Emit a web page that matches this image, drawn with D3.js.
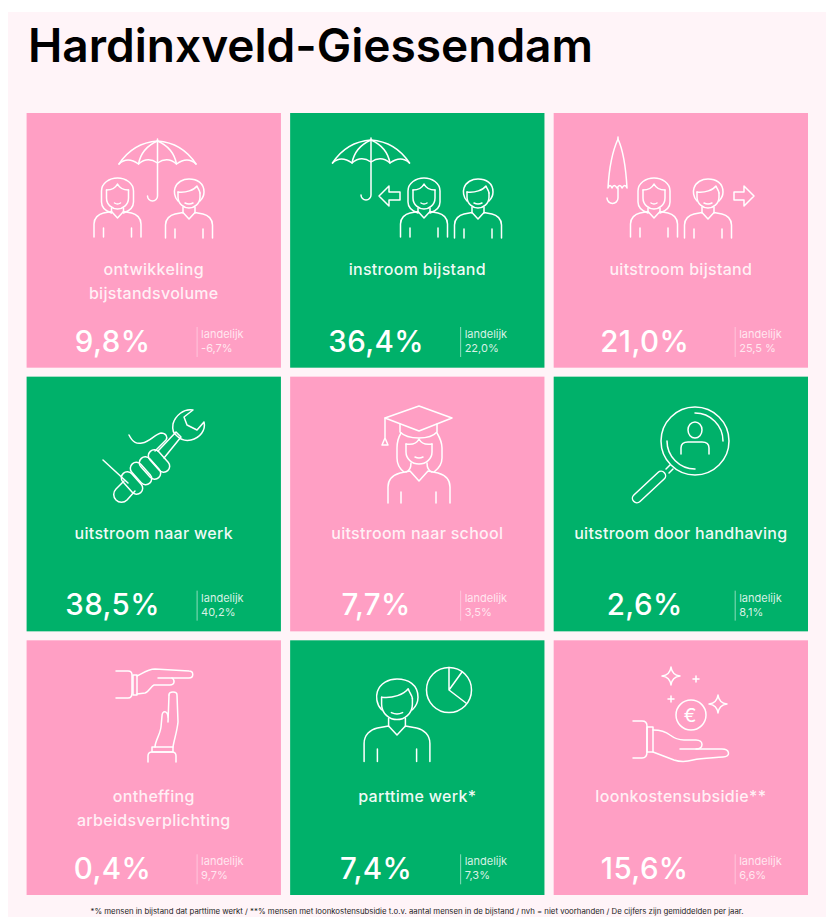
<!DOCTYPE html>
<html><head><meta charset="utf-8">
<script src="https://cdn.jsdelivr.net/npm/d3@7"></script>
<style>html,body{margin:0;padding:0;background:#fff}svg{display:block}text{font-family:Inter,"Noto Sans",sans-serif}</style>
</head><body><div id="chart"></div>
<script>
const title = "Hardinxveld-Giessendam";
const labels = [["ontwikkeling","bijstandsvolume"],["instroom bijstand"],["uitstroom bijstand"],["uitstroom naar werk"],["uitstroom naar school"],["uitstroom door handhaving"],["ontheffing","arbeidsverplichting"],["parttime werk*"],["loonkostensubsidie**"]];
const values = ["9,8%","36,4%","21,0%","38,5%","7,7%","2,6%","0,4%","7,4%","15,6%"];
const national = ["-6,7%","22,0%","25,5 %","40,2%","3,5%","8,1%","9,7%","7,3%","6,6%"];
const status = ["pink","green","pink","green","pink","green","pink","green","pink"];
const footnote = "*% mensen in bijstand dat parttime werkt / **% mensen met loonkostensubsidie t.o.v. aantal mensen in de bijstand / nvh = niet voorhanden / De cijfers zijn gemiddelden per jaar.";

const W=826,H=917;
const svg=d3.select("#chart").append("svg").attr("width",W).attr("height",H);
svg.append("rect").attr("x",8).attr("y",12).attr("width",818).attr("height",905).attr("fill","#fff4f8");
svg.append("text").attr("x",28).attr("y",62).attr("font-size",46).attr("font-weight",600).attr("fill","#000").attr("textLength",565).attr("lengthAdjust","spacingAndGlyphs").text(title);

const x=d3.scaleBand().domain([0,1,2]).range([26.6,808]).paddingInner(0.035);
const y=d3.scaleBand().domain([0,1,2]).range([113,895]).paddingInner(0.034);
const fill=d3.scaleOrdinal().domain(["pink","green"]).range(["#ff9fc4","#00b16a"]);
const valueOffset=[86,86,91], dividerOffset=[170.5,170.5,181.5];

const cells=svg.selectAll("g.tile").data(values.map((v,i)=>({v,i,c:i%3,r:Math.floor(i/3)}))).join("g").attr("class","tile")
  .attr("transform",d=>`translate(${x(d.c)},${y(d.r)})`);
cells.append("rect").attr("width",x.bandwidth()).attr("height",y.bandwidth()).attr("fill",d=>fill(status[d.i]));
cells.each(function(d){
  const g=d3.select(this), pink=status[d.i]==="pink", cx=x.bandwidth()/2;
  labels[d.i].forEach((t,k)=>g.append("text").attr("x",cx).attr("y",162+k*24).attr("text-anchor","middle")
    .attr("font-size",16).attr("font-weight",500).attr("letter-spacing",0.3).attr("fill","#fff").attr("fill-opacity",pink?0.85:0.95).text(t));
  g.append("text").attr("x",valueOffset[d.c]).attr("y",238.5).attr("text-anchor","middle").attr("font-size",29.5).attr("font-weight",500).attr("letter-spacing",0.4).attr("fill","#fff").text(d.v);
  const dx=dividerOffset[d.c];
  g.append("line").attr("x1",dx).attr("x2",dx).attr("y1",214).attr("y2",244).attr("stroke","#fff").attr("stroke-opacity",pink?0.4:0.55);
  g.append("text").attr("x",dx+4).attr("y",225).attr("font-size",11).attr("fill","#fff").attr("fill-opacity",pink?0.75:0.85).text("landelijk");
  g.append("text").attr("x",dx+4).attr("y",239).attr("font-size",11).attr("fill","#fff").attr("fill-opacity",pink?0.75:0.85).text(national[d.i]);
});
svg.append("text").attr("x",417).attr("y",914).attr("text-anchor","middle").attr("font-size",7.4).attr("fill","#222").attr("textLength",653).attr("lengthAdjust","spacingAndGlyphs").text(footnote);

// icons (illustrations)
const ic=svg.append("g").attr("fill","none").attr("stroke","#fff").attr("stroke-width",1.5).attr("stroke-linecap","round").attr("stroke-linejoin","round");
const P=(d,parent)=>(parent||ic).append("path").attr("d",d).attr("vector-effect","non-scaling-stroke");
const shoulders=["M-23.5,59V46C-23.5,40-19,36-14,35L-6,33.5L0,40L6,33.5L14,35C19,36 23.5,40 23.5,46V59","M-14,50V59","M14,50V59"];
const womanP=["M-6,35C-12,33-16,30-16,24V13C-16,5-8,0 0,0C8,0 16,5 16,13V24C16,30 12,33 6,35","M-11,12C-5,12-2,10 0,6C2,10 5,12 11,12","M-11,12V20C-11,27-5,31 0,31C5,31 11,27 11,20V12","M-3,25Q0,27 3,25","M-6,30V34M6,30V34",...shoulders];
const manP=["M-11,22C-15,18-15,12-14,9C-12,3-6,0 0,0C8,0 15,4 15,13C15,17 13,20 11,22","M-11,13C-3,14 5,11 8,7C9,10 11,12 11,14","M-11,13V18C-11,25-5,29 0,29C5,29 11,25 11,18V14","M-4,24Q0,26 4,24","M-6,28V34M6,28V34",...shoulders];
const person=(paths,cx,top,s=1)=>{const g=ic.append("g").attr("transform",`translate(${cx},${top}) scale(${s})`);paths.forEach(d=>P(d,g));};
const umbrella=(c,t)=>{
  const L=c-38.5,R=c+38.5,b=t+24;
  P(`M${L},${b}C${c-28},${t+8} ${c-14},${t+2} ${c},${t+1}C${c+14},${t+2} ${c+28},${t+8} ${R},${b}`);
  P(`M${L},${b}Q${c-30},${t+16} ${c-19},${t+24}Q${c-10},${t+16} ${c},${t+23}Q${c+10},${t+16} ${c+19},${t+24}Q${c+30},${t+16} ${R},${b}`);
  P(`M${c-19},${t+24}Q${c-16},${t+8} ${c},${t+1}Q${c+16},${t+8} ${c+19},${t+24}`);
  P(`M${c},${t-1}V${t+56}A5,5 0 0 1 ${c-10},${t+56}`);
};
const arrow=(x1,x2,yy)=>{const s=Math.sign(x2-x1),n=x2-s*10;P(`M${x1},${yy-4}H${n}V${yy-10}L${x2},${yy}L${n},${yy+10}V${yy+4}H${x1}Z`);};

// tile 1
umbrella(157.5,140); person(womanP,117.5,178); person(manP,189,179);
// tile 2
umbrella(371,139); arrow(400,379,196); person(womanP,424,178); person(manP,478,179);
// tile 3
P("M618,139C613,150 609,170 608,188Q610,183 612,188Q614,183 617,188Q620,183 622,188Q625,183 627,188C626,170 623,150 618,139Z");
P("M618,137V139M618,188V198A5.5,5.5 0 0 1 607,198");
person(womanP,654,178); person(manP,708,179); arrow(734,754,196);
// tile 4
P("M103,460L128,483");
P("M116,489L124,481M127,500L135,491M116,489A7.5,7.5 0 0 0 127,500");
[[132,483],[141,473.5],[150,468],[159,461]].forEach(([a,b])=>ic.append("rect").attr("x",-13).attr("y",-6).attr("width",26).attr("height",12).attr("rx",6).attr("transform",`translate(${a},${b}) rotate(48)`));
P("M129,435C133,443 137,444 142,443C150,442 155,434 161,433C166,433 168,437 166,440L155,451");
P("M164,458L181,437L176,432L158,451");
P("M193,410C184,408 175,416 173,424C172,430 174,434 177,436C181,440 186,441 191,440C200,438 206,430 204,422L197,430L187,425L184,417Z");
// tile 5
P("M385,418L419,406L452,418L419,431Z");
P("M385,418V438M385,438L382,445H388Z");
P("M400,424V432C408,440 430,440 437,432V424");
P("M401,433C398,438 397,442 397,448V458C397,465 400,469 404,472M437,433C440,438 442,442 442,448V458C442,465 438,469 434,472");
P("M406,444C412,445 417,443 419,439C421,443 426,445 432,444");
P("M406,444V452C406,459 412,464 419,464C426,464 432,459 432,452V444");
P("M415,457Q419,459 423,457");
P("M411,463C411,468 409,471 406,472M427,463C427,468 429,471 432,472");
P("M388,503V487C388,480 393,475 400,473L410,471L419,481L428,471L438,473C445,475 450,480 450,487V503M401,492V503M436,492V503");
// tile 6
ic.append("circle").attr("cx",695).attr("cy",441).attr("r",34);
P("M695,413A28,28 0 0 1 723,441M667,441A28,28 0 0 0 695,469");
ic.append("ellipse").attr("cx",695).attr("cy",430).attr("rx",7).attr("ry",8);
P("M681,454V448C681,444 684,442 688,442H702C706,442 709,444 709,448V454");
P("M670,465L666,469M673,469L669,473");
ic.append("rect").attr("x",-21).attr("y",-4.5).attr("width",42).attr("height",9).attr("rx",4.5).attr("transform","translate(649,487) rotate(-43)");
// tile 7
P("M116,671H128Q132,671 132,675V693Q132,698 128,698H116");
P("M133,675H137V695H133Z");
P("M137,676C143,673 148,669 155,669L189,671C194,671 194,678 189,678H158");
P("M172,678C175,680 175,685 170,685H154C151,686 149,692 145,693L137,694");
P("M169,695C169,691 177,691 177,695L178,722C177,732 174,740 173,747");
P("M169,695L168,722M168,718C168,710 162,710 162,716L161,727C160,735 155,741 155,747");
P("M152,747H173V752H152Z");
P("M148,762V756Q148,752 152,752H172Q176,752 176,756V762");
// tile 8
person(manP,397,679,1.4);
ic.append("circle").attr("cx",449).attr("cy",690).attr("r",22.5);
P("M449,667.5V690L466,703M449,690L462,672");
// tile 9
const spark=(a,b,r)=>P(`M${a},${b-r}Q${a+1},${b-1} ${a+r},${b}Q${a+1},${b+1} ${a},${b+r}Q${a-1},${b+1} ${a-r},${b}Q${a-1},${b-1} ${a},${b-r}Z`);
spark(671,676,9); spark(718,704,9);
P("M696,676V682M693,679H699M671,696V702M668,699H674");
ic.append("circle").attr("cx",691).attr("cy",715).attr("r",15);
ic.append("text").attr("x",690).attr("y",722).attr("text-anchor","middle").attr("font-size",19).attr("stroke","none").attr("fill","#fff").text("€");
P("M633,721H642Q647,721 647,726V752Q647,758 642,758H633");
P("M647,727H653V752H647Z");
P("M653,730C660,730 665,731 670,735C674,738 678,740 684,740H696C704,740 704,749 696,749H680");
P("M696,749H722C730,749 731,757 723,757C712,758 702,758 693,760C686,762 680,762 674,760L653,752");
</script></body></html>
